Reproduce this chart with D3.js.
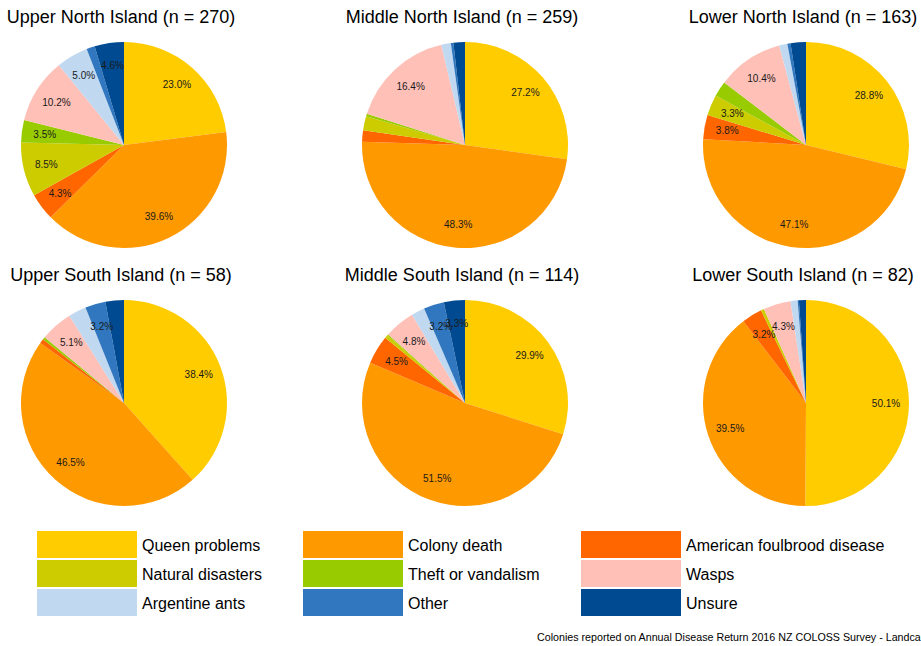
<!DOCTYPE html>
<html>
<head>
<meta charset="utf-8">
<script src="https://cdn.jsdelivr.net/npm/d3@7"></script>
<style>
  body { margin: 0; background: #fff; }
  svg { display: block; font-family: "Liberation Sans", Arial, sans-serif; }
</style>
</head>
<body>
<div class="chart"></div>
<script>
// data
var causes = ["Queen problems", "Colony death", "American foulbrood disease",
              "Natural disasters", "Theft or vandalism", "Wasps",
              "Argentine ants", "Other", "Unsure"];
var causeColors = ["#FFCC00", "#FF9900", "#FF6600",
                   "#CCCC00", "#99CC00", "#FFC0B8",
                   "#C0D8F0", "#3077C0", "#004A91"];

var regions = ["Upper North Island", "Middle North Island", "Lower North Island",
               "Upper South Island", "Middle South Island", "Lower South Island"];
var regionN = [270, 259, 163, 58, 114, 82];

// percent per cause, same order as causes
var upperNorth  = [23.0, 39.6, 4.3, 8.5, 3.5, 10.2, 5.0, 1.3, 4.6];
var middleNorth = [27.2, 48.3, 1.8, 2.2, 0.4, 16.4, 1.5, 0.4, 1.8];
var lowerNorth  = [28.8, 47.1, 3.8, 3.3, 2.4, 10.4, 1.3, 0.5, 2.4];
var upperSouth  = [38.4, 46.5, 0.7, 0.0, 0.4, 5.1, 2.8, 3.2, 2.9];
var middleSouth = [29.9, 51.5, 4.5, 0.5, 0.2, 4.8, 2.1, 3.2, 3.3];
var lowerSouth  = [50.1, 39.5, 3.2, 0.5, 0.0, 4.3, 1.1, 0.2, 1.1];
var regionValues = [upperNorth, middleNorth, lowerNorth, upperSouth, middleSouth, lowerSouth];

var footerText = "Colonies reported on Annual Disease Return 2016 NZ COLOSS Survey - Landcare Research";

var width = 921, height = 646;
var radius = 103;
var labelRadius = 80;
var minLabel = 3.0;

var svg = d3.select(".chart").append("svg").attr("width", width).attr("height", height);

var colX = d3.scalePoint().domain([0, 1, 2]).range([124, 806]);
var rowY = d3.scalePoint().domain([0, 1]).range([145, 403]);
var color = d3.scaleOrdinal().domain(causes).range(causeColors);

var pie = d3.pie().sort(null).value(function (d) { return d.value; });
var arc = d3.arc().innerRadius(0).outerRadius(radius);
var labelArc = d3.arc().innerRadius(labelRadius).outerRadius(labelRadius);

regions.forEach(function (name, i) {
    var cx = colX(i % 3), cy = rowY(Math.floor(i / 3));
    var rows = causes.map(function (c, k) { return {cause: c, value: regionValues[i][k]}; });

    svg.append("text")
        .attr("x", cx - 3).attr("y", cy - radius - 19)
        .attr("text-anchor", "middle")
        .attr("font-size", 18)
        .attr("fill", "#000")
        .text(name + " (n = " + regionN[i] + ")");

    var g = svg.append("g").attr("transform", "translate(" + cx + "," + cy + ")");
    var arcs = pie(rows);

    g.selectAll("path").data(arcs).enter().append("path")
        .attr("d", arc)
        .attr("fill", function (d) { return color(d.data.cause); });

    g.selectAll("text").data(arcs.filter(function (d) { return d.data.value >= minLabel; }))
        .enter().append("text")
        .attr("transform", function (d) { return "translate(" + labelArc.centroid(d) + ")"; })
        .attr("text-anchor", "middle")
        .attr("dy", "0.35em")
        .attr("font-size", 10)
        .attr("fill", "#1a1a1a")
        .text(function (d) { return d.data.value.toFixed(1) + "%"; });
});

// legend, 3 columns
var legX = [37, 303, 581];
var legY = [531, 560, 589];
var legend = svg.append("g");
causes.forEach(function (c, k) {
    var x = legX[k % 3], y = legY[Math.floor(k / 3)];
    legend.append("rect")
        .attr("x", x).attr("y", y)
        .attr("width", 100).attr("height", 27)
        .attr("fill", color(c));
    legend.append("text")
        .attr("x", x + 105).attr("y", y + 14)
        .attr("dy", "0.35em")
        .attr("font-size", 16)
        .attr("fill", "#000")
        .text(c);
});

svg.append("text")
    .attr("x", 537).attr("y", 641)
    .attr("font-family", "'Liberation Sans Narrow', 'Liberation Sans', Arial, sans-serif")
    .attr("font-size", 10.7)
    .attr("fill", "#000")
    .text(footerText);
</script>
</body>
</html>
